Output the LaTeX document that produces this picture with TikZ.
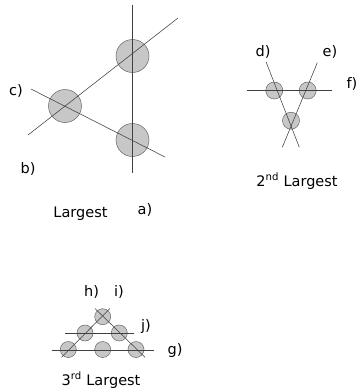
\documentclass[tikz,border=0pt]{standalone}
\usepackage{fontspec}
\setmainfont{DejaVu Sans}
\begin{document}
\begin{tikzpicture}[x=1pt,y=-1pt,
  ball/.style={circle,draw=black!60,fill=black!22,line width=0.5pt,inner sep=0pt},
  bigball/.style={ball,minimum size=33pt},
  midball/.style={ball,minimum size=17pt},
  smallball/.style={ball,minimum size=16pt},
  axis/.style={draw=black!75,line width=0.55pt},
  lab/.style={font=\fontsize{14.5}{17}\selectfont,inner sep=0pt,anchor=base}]
\useasboundingbox[fill=white] (0,0) rectangle (359,392);
% ---- Largest
\node[bigball] (c1) at (132.5,56) {};
\node[bigball] (c2) at (65,106) {};
\node[bigball] (c3) at (132.5,140) {};
\coordinate (a1) at (132.5,5);   \coordinate (a2) at (132.5,173);
\coordinate (cc1) at (178,18);   \coordinate (cc2) at (28,135);
\coordinate (b1) at (31,89);     \coordinate (b2) at (165,157);
\draw[axis] (a1) -- (a2);
\draw[axis] (cc1) -- (cc2);
\draw[axis] (b1) -- (b2);
\node[lab] (lc) at (16,95) {c)};
\node[lab] (lb) at (28,173) {b)};
\node[lab] (la) at (145,214) {a)};
\node[lab] (l1) at (80.5,217.5) {Largest};
% ---- 2nd Largest
\node[midball] (d1) at (274.3,90.5) {};
\node[midball] (d2) at (307.7,90.5) {};
\node[midball] (d3) at (291,120.7) {};
\coordinate (f1) at (247,90.5);  \coordinate (f2) at (332,90.5);
\coordinate (dd1) at (266,61.7); \coordinate (dd2) at (299.3,147.3);
\coordinate (e1) at (317.3,62.7);\coordinate (e2) at (282.3,147.3);
\draw[axis] (f1) -- (f2);
\draw[axis] (dd1) -- (dd2);
\draw[axis] (e1) -- (e2);
\node[lab] (ld) at (263,56.5) {d)};
\node[lab] (le) at (330,56.5) {e)};
\node[lab] (lf) at (352,88) {f)};
\node[lab] (l2) at (297,186) {2\textsuperscript{nd} Largest};
% ---- 3rd Largest
\node[smallball] (t)  at (102.7,316.7) {};
\node[smallball] (m1) at (85,333) {};
\node[smallball] (m2) at (119.3,333) {};
\node[smallball] (q1) at (68.3,349.5) {};
\node[smallball] (q2) at (102.7,349.5) {};
\node[smallball] (q3) at (136,349.5) {};
\coordinate (j1) at (65,333);    \coordinate (j2) at (134,333);
\coordinate (g1) at (51.7,350);  \coordinate (g2) at (154,350);
\coordinate (h1) at (61.5,357.3);\coordinate (h2) at (110,308.5);
\coordinate (i1) at (95,308.5);  \coordinate (i2) at (145,357.3);
\draw[axis] (j1) -- (j2);
\draw[axis] (g1) -- (g2);
\draw[axis] (h1) -- (h2);
\draw[axis] (i1) -- (i2);
\node[lab] (lh) at (91.5,296) {h)};
\node[lab] (li) at (119,296) {i)};
\node[lab] (lj) at (146,330) {j)};
\node[lab] (lg) at (175,354) {g)};
\node[lab] (l3) at (101,385) {3\textsuperscript{rd} Largest};
\end{tikzpicture}
\end{document}
